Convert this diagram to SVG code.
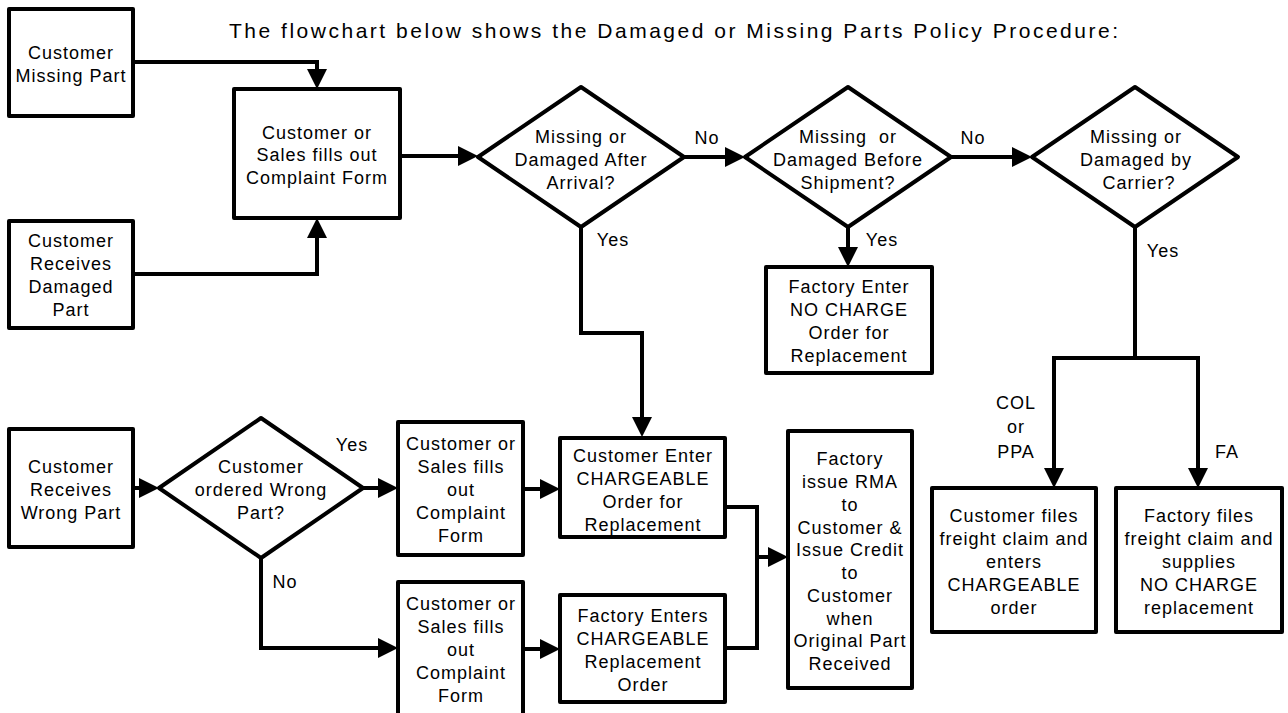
<svg xmlns="http://www.w3.org/2000/svg" width="1288" height="713" viewBox="0 0 1288 713">
<style>
.box{fill:#fff;stroke:#000;stroke-width:4;stroke-linejoin:round}
.con{fill:none;stroke:#000;stroke-width:4;stroke-linejoin:miter}
text{font-family:"Liberation Sans",Arial,sans-serif;font-size:18px;letter-spacing:1px;fill:#000}
.c{text-anchor:middle}
.title{font-size:21px;letter-spacing:0}
</style>
<defs>
<marker id="ah" markerUnits="userSpaceOnUse" markerWidth="20" markerHeight="20" refX="12" refY="10" orient="auto">
<path d="M0,0 L20,10 L0,20 Z" fill="#000"/>
</marker>
</defs>
<rect width="1288" height="713" fill="#fff"/>
<text class="title" x="229" y="38" textLength="889" lengthAdjust="spacing">The flowchart below shows the Damaged or Missing Parts Policy Procedure:</text>

<g id="connectors">
<path class="con" d="M133,62 H317 V81" marker-end="url(#ah)"/>
<path class="con" d="M133,274 H317 V226" marker-end="url(#ah)"/>
<path class="con" d="M400,156 H470" marker-end="url(#ah)"/>
<path class="con" d="M684,157 H737" marker-end="url(#ah)"/>
<path class="con" d="M951,157 H1024" marker-end="url(#ah)"/>
<path class="con" d="M848,227 V259" marker-end="url(#ah)"/>
<path class="con" d="M581,227 V333 H642 V429" marker-end="url(#ah)"/>
<path class="con" d="M1135,227 V358 H1054 V480" marker-end="url(#ah)"/>
<path class="con" d="M1135,358 H1198 V480" marker-end="url(#ah)"/>
<path class="con" d="M133,488 H151" marker-end="url(#ah)"/>
<path class="con" d="M363,488 H390" marker-end="url(#ah)"/>
<path class="con" d="M261,558 V648 H390" marker-end="url(#ah)"/>
<path class="con" d="M523,489 H552" marker-end="url(#ah)"/>
<path class="con" d="M523,649 H552" marker-end="url(#ah)"/>
<path class="con" d="M725,507 H757 V648 H725"/>
<path class="con" d="M757,557 H780" marker-end="url(#ah)"/>
<g id="labels">
<text class="c" x="707" y="144">No</text>
<text class="c" x="973" y="144">No</text>
<text class="c" x="613" y="246">Yes</text>
<text class="c" x="882" y="246">Yes</text>
<text class="c" x="1163" y="257">Yes</text>
<text class="c" x="1016" y="409">COL</text>
<text class="c" x="1016" y="433">or</text>
<text class="c" x="1016" y="458">PPA</text>
<text class="c" x="1227" y="458">FA</text>
<text class="c" x="352" y="451">Yes</text>
<text class="c" x="285" y="588">No</text>
</g>
</g>

<g id="n-missing">
<rect class="box" x="9" y="9" width="124" height="107"/>
<text class="c" x="71" y="59">Customer</text>
<text class="c" x="71" y="82">Missing Part</text>
</g>
<g id="n-damaged">
<rect class="box" x="9" y="221" width="124" height="107"/>
<text class="c" x="71" y="247">Customer</text>
<text class="c" x="71" y="270">Receives</text>
<text class="c" x="71" y="293">Damaged</text>
<text class="c" x="71" y="316">Part</text>
</g>
<g id="n-form1">
<rect class="box" x="234" y="89" width="166" height="129"/>
<text class="c" x="317" y="139">Customer or</text>
<text class="c" x="317" y="161">Sales fills out</text>
<text class="c" x="317" y="184">Complaint Form</text>
</g>
<g id="d-after">
<polygon class="box" points="478,157 581,87 684,157 581,227"/>
<text class="c" x="581" y="143">Missing or</text>
<text class="c" x="581" y="166">Damaged After</text>
<text class="c" x="581" y="189">Arrival?</text>
</g>
<g id="d-before">
<polygon class="box" points="745,157 848,87 951,157 848,227"/>
<text class="c" x="848" y="143" xml:space="preserve">Missing  or</text>
<text class="c" x="848" y="166">Damaged Before</text>
<text class="c" x="848" y="189">Shipment?</text>
</g>
<g id="d-carrier">
<polygon class="box" points="1032,157 1135,87 1238,157 1135,227"/>
<text class="c" x="1136" y="143">Missing or</text>
<text class="c" x="1136" y="166">Damaged by</text>
<text class="c" x="1139" y="189">Carrier?</text>
</g>
<g id="n-nocharge">
<rect class="box" x="766" y="267" width="166" height="106"/>
<text class="c" x="849" y="293">Factory Enter</text>
<text class="c" x="849" y="316">NO CHARGE</text>
<text class="c" x="849" y="339">Order for</text>
<text class="c" x="849" y="362">Replacement</text>
</g>
<g id="n-custclaim">
<rect class="box" x="932" y="488" width="164" height="144"/>
<text class="c" x="1014" y="522">Customer files</text>
<text class="c" x="1014" y="545">freight claim and</text>
<text class="c" x="1014" y="568">enters</text>
<text class="c" x="1014" y="591">CHARGEABLE</text>
<text class="c" x="1014" y="614">order</text>
</g>
<g id="n-factclaim">
<rect class="box" x="1116" y="488" width="166" height="144"/>
<text class="c" x="1199" y="522">Factory files</text>
<text class="c" x="1199" y="545">freight claim and</text>
<text class="c" x="1199" y="568">supplies</text>
<text class="c" x="1199" y="591">NO CHARGE</text>
<text class="c" x="1199" y="614">replacement</text>
</g>
<g id="n-wrong">
<rect class="box" x="9" y="429" width="124" height="118"/>
<text class="c" x="71" y="473">Customer</text>
<text class="c" x="71" y="496">Receives</text>
<text class="c" x="71" y="519">Wrong Part</text>
</g>
<g id="d-ordered">
<polygon class="box" points="159,488 261,418 363,488 261,558"/>
<text class="c" x="261" y="473">Customer</text>
<text class="c" x="261" y="496">ordered Wrong</text>
<text class="c" x="261" y="519">Part?</text>
</g>
<g id="n-form2">
<rect class="box" x="398" y="422" width="125" height="133"/>
<text class="c" x="461" y="450">Customer or</text>
<text class="c" x="461" y="473">Sales fills</text>
<text class="c" x="461" y="496">out</text>
<text class="c" x="461" y="519">Complaint</text>
<text class="c" x="461" y="542">Form</text>
</g>
<g id="n-form3">
<rect class="box" x="398" y="582" width="125" height="140"/>
<text class="c" x="461" y="610">Customer or</text>
<text class="c" x="461" y="633">Sales fills</text>
<text class="c" x="461" y="656">out</text>
<text class="c" x="461" y="679">Complaint</text>
<text class="c" x="461" y="702">Form</text>
</g>
<g id="n-custenter">
<rect class="box" x="560" y="438" width="165" height="99"/>
<text class="c" x="643" y="462">Customer Enter</text>
<text class="c" x="643" y="485">CHARGEABLE</text>
<text class="c" x="643" y="508">Order for</text>
<text class="c" x="643" y="531">Replacement</text>
</g>
<g id="n-factenter">
<rect class="box" x="560" y="595" width="165" height="107"/>
<text class="c" x="643" y="622">Factory Enters</text>
<text class="c" x="643" y="645">CHARGEABLE</text>
<text class="c" x="643" y="668">Replacement</text>
<text class="c" x="643" y="691">Order</text>
</g>
<g id="n-rma">
<rect class="box" x="788" y="431" width="124" height="257"/>
<text class="c" x="850" y="465">Factory</text>
<text class="c" x="850" y="488">issue RMA</text>
<text class="c" x="850" y="511">to</text>
<text class="c" x="850" y="534">Customer &amp;</text>
<text class="c" x="850" y="556">Issue Credit</text>
<text class="c" x="850" y="579">to</text>
<text class="c" x="850" y="602">Customer</text>
<text class="c" x="850" y="625">when</text>
<text class="c" x="850" y="647">Original Part</text>
<text class="c" x="850" y="670">Received</text>
</g>
</svg>
